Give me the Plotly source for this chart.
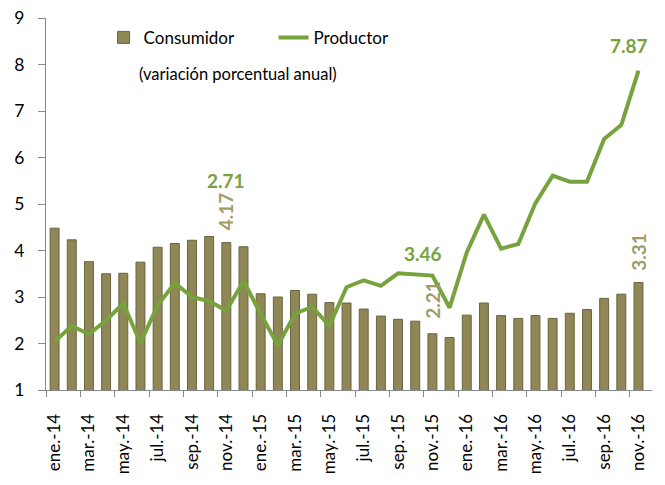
import plotly.graph_objects as go

meses = ["ene.", "feb.", "mar.", "abr.", "may.", "jun.",
         "jul.", "ago.", "sep.", "oct.", "nov.", "dic."]
fechas = [m + "-" + a for a in ["14", "15", "16"] for m in meses][:35]

consumidor = [4.48, 4.23, 3.76, 3.50, 3.51, 3.75, 4.07, 4.15, 4.22, 4.30, 4.17, 4.08,
              3.07, 3.00, 3.14, 3.06, 2.88, 2.87, 2.74, 2.59, 2.52, 2.48, 2.21, 2.13,
              2.61, 2.87, 2.60, 2.54, 2.60, 2.54, 2.65, 2.73, 2.97, 3.06, 3.31]

productor = [2.04, 2.38, 2.20, 2.50, 2.86, 2.01, 2.82, 3.30, 3.00, 2.91, 2.71, 3.34,
             2.64, 1.96, 2.64, 2.79, 2.38, 3.21, 3.36, 3.24, 3.51, 3.48, 3.46, 2.77,
             3.96, 4.77, 4.04, 4.14, 5.02, 5.61, 5.48, 5.48, 6.40, 6.70, 7.87]

verde = "#77a33e"
oliva = "#8f8755"
tan = "#a39b63"

fig = go.Figure()
fig.add_trace(go.Bar(x=fechas, y=consumidor, name="Consumidor",
                     marker=dict(color=oliva, line=dict(color="#6a6340", width=1))))
fig.add_trace(go.Scatter(x=fechas, y=productor, name="Productor", mode="lines",
                         line=dict(color=verde, width=4)))

# etiquetas de datos
fig.add_annotation(x="nov.-14", y=5.5, text="<b>2.71</b>", showarrow=False,
                   font=dict(color=verde, size=19))
fig.add_annotation(x="nov.-14", y=4.85, text="<b>4.17</b>", showarrow=False, textangle=-90,
                   font=dict(color=tan, size=19))
fig.add_annotation(x="nov.-15", y=3.94, text="<b>3.46</b>", showarrow=False, xshift=-9,
                   font=dict(color=verde, size=19))
fig.add_annotation(x="nov.-15", y=2.95, text="<b>2.21</b>", showarrow=False, textangle=-90,
                   font=dict(color=tan, size=19))
fig.add_annotation(x="nov.-16", y=3.96, text="<b>3.31</b>", showarrow=False, textangle=-90,
                   font=dict(color=tan, size=19))
fig.add_annotation(x="nov.-16", y=8.4, text="<b>7.87</b>", showarrow=False, xshift=-10,
                   font=dict(color=verde, size=19))
fig.add_annotation(xref="paper", yref="paper", x=0.15, y=0.85, xanchor="left",
                   yanchor="middle", text="(variación porcentual anual)", showarrow=False,
                   font=dict(size=16.5, color="black"))

fig.update_layout(
    width=657, height=477,
    margin=dict(l=38, r=13, t=10, b=95, autoexpand=False),
    plot_bgcolor="white", paper_bgcolor="white",
    font=dict(family="Lato", color="black"),
    bargap=0.48,
    showlegend=True,
    legend=dict(orientation="h", x=0.095, y=0.995, xanchor="left", yanchor="top",
                font=dict(size=17), bgcolor="rgba(0,0,0,0)",
                entrywidth=125, entrywidthmode="pixels", traceorder="normal"),
)
fig.update_xaxes(type="category", tickangle=-90, dtick=2, tickson="boundaries",
                 ticks="outside", ticklen=6, tickcolor="#888", showline=True,
                 linecolor="#888", showgrid=False, tickfont=dict(size=17),
                 ticklabelstandoff=16, automargin=False)
fig.update_yaxes(range=[1, 9], dtick=1, ticks="outside", ticklen=7, tickcolor="#888",
                 showline=True, linecolor="#888", showgrid=False, zeroline=False,
                 tickfont=dict(size=17.5), ticklabelstandoff=10, automargin=False,
                 ticklabeloverflow="allow")

fig.write_html("out.html")
